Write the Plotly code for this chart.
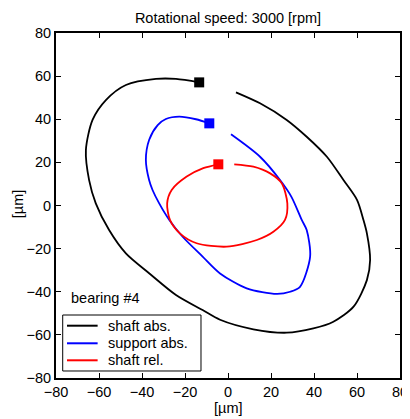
import plotly.graph_objects as go

# Orbit data (µm): each list starts at the gap end and ends at the start marker
shaft_abs_x = [3.7, 14.9, 27.3, 36.6, 46.0, 53.7, 60.0, 63.0, 64.6, 66.1, 64.6, 58.4, 49.0, 39.7, 27.3, 11.8, -3.7, -11.8, -24.2, -36.7, -47.5, -55.3, -61.5, -64.6, -66.1, -63.0, -56.8, -47.5, -33.5, -24.2, -13.4]
shaft_abs_y = [52.5, 47.4, 39.7, 31.9, 22.6, 11.8, 2.6, -6.7, -12.9, -25.3, -34.6, -46.9, -53.9, -57.0, -59.0, -57.4, -53.0, -48.5, -41.5, -31.4, -22.2, -11.4, 1.0, 11.8, 25.7, 39.7, 48.9, 55.9, 58.7, 58.7, 57.1]

support_abs_x = [1.4, 14.9, 24.2, 29.5, 34.3, 36.6, 38.2, 33.5, 28.9, 22.7, 8.7, -3.7, -11.8, -21.1, -27.3, -32.0, -35.1, -36.7, -38.2, -36.7, -32.7, -28.9, -22.7, -14.9, -8.7]
support_abs_y = [33.0, 22.6, 11.8, 4.0, -6.7, -11.4, -23.7, -37.7, -40.0, -41.0, -38.4, -31.5, -23.7, -14.5, -6.7, 1.0, 7.2, 11.8, 21.1, 30.4, 37.3, 40.1, 41.2, 40.0, 38.1]

shaft_rel_x = [2.9, 11.8, 19.6, 25.0, 27.6, 26.5, 21.1, 13.4, -0.6, -14.6, -22.4, -27.0, -28.3, -26.2, -19.2, -11.5, -4.5]
shaft_rel_y = [19.1, 18.0, 14.9, 10.3, 1.0, -6.7, -12.2, -16.0, -19.1, -17.5, -12.9, -6.7, 1.0, 7.2, 13.4, 17.3, 19.1]

series_names = ["shaft abs.", "support abs.", "shaft rel."]
series_colors = ["#000000", "#0000ff", "#ff0000"]
series_x = [shaft_abs_x, support_abs_x, shaft_rel_x]
series_y = [shaft_abs_y, support_abs_y, shaft_rel_y]

tick_vals = [-80, -60, -40, -20, 0, 20, 40, 60, 80]
title_text = "Rotational speed: 3000 [rpm]"
axis_label = "[µm]"
note_text = "bearing #4"

FONT = "Liberation Sans, Arial, sans-serif"
FS = 14.5

# page body has an 8px margin: figure is sized/offset to compensate
W, H = 402, 411

fig = go.Figure()
for name, col, xs, ys in zip(series_names, series_colors, series_x, series_y):
    fig.add_trace(go.Scatter(x=xs, y=ys, mode="lines", name=name, showlegend=False,
                             line=dict(color=col, width=1.8, shape="spline", smoothing=0.8)))
for name, col, xs, ys in zip(series_names, series_colors, series_x, series_y):
    fig.add_trace(go.Scatter(x=[xs[-1]], y=[ys[-1]], mode="markers", showlegend=False,
                             marker=dict(symbol="square", size=10, color=col,
                                         line=dict(width=0))))

axis_common = dict(range=[-80, 80], tickvals=tick_vals, ticks="inside", ticklen=5,
                   tickcolor="black", tickwidth=1, showline=True, linecolor="black",
                   linewidth=2, mirror="ticks", showgrid=False, zeroline=False,
                   automargin=False,
                   tickfont=dict(family=FONT, size=FS, color="black"))

# legend drawn as box + samples + labels (paper coords of the plot area)
shapes = [dict(type="rect", xref="paper", yref="paper", x0=0.0195, x1=0.4215,
               y0=0.0203, y1=0.1826, line=dict(color="black", width=1),
               fillcolor="white", layer="above")]
annotations = []
leg_y = [0.1516, 0.1006, 0.0513]
for name, col, ly in zip(series_names, series_colors, leg_y):
    shapes.append(dict(type="line", xref="paper", yref="paper", x0=0.032, x1=0.121,
                       y0=ly, y1=ly, line=dict(color=col, width=2), layer="above"))
    annotations.append(dict(text=name, x=0.1453, y=ly, xref="paper", yref="paper",
                            xanchor="left", yanchor="middle", showarrow=False,
                            font=dict(family=FONT, size=FS, color="black")))
annotations.append(dict(text=note_text, x=-73.8, y=-42.9, xref="x", yref="y",
                        xanchor="left", yanchor="middle", showarrow=False,
                        font=dict(family=FONT, size=FS, color="black")))
# axis titles
annotations.append(dict(text=axis_label, x=0.5, y=0, xref="paper", yref="paper",
                        xanchor="center", yanchor="middle", yshift=-30, showarrow=False,
                        font=dict(family=FONT, size=FS, color="black")))
annotations.append(dict(text=axis_label, x=0, y=0.5, xref="paper", yref="paper",
                        xanchor="center", yanchor="middle", xshift=-38.3, yshift=2,
                        textangle=-90, showarrow=False,
                        font=dict(family=FONT, size=FS, color="black")))

fig.update_layout(
    template="none",
    width=W, height=H,
    margin=dict(l=48, r=10, t=25, b=41, autoexpand=False),
    paper_bgcolor="white", plot_bgcolor="white",
    font=dict(family=FONT, size=FS, color="black"),
    title=dict(text=title_text, x=0.5, xanchor="center", xref="paper",
               y=1 - 10 / H, yanchor="middle",
               font=dict(family=FONT, size=FS, color="black")),
    xaxis=axis_common,
    yaxis=axis_common,
    showlegend=False,
    shapes=shapes,
    annotations=annotations,
)

fig.write_html("out.html")
